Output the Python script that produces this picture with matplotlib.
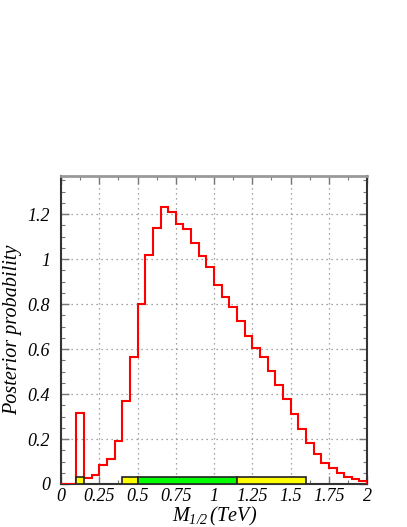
import numpy as np
import matplotlib
matplotlib.use("Agg")
import matplotlib.pyplot as plt
from matplotlib.ticker import MultipleLocator, FixedLocator, FixedFormatter

# posterior histogram of M_1/2, 40 bins from 0 to 2 TeV
bin_edges = np.linspace(0, 2, 41)
posterior = [0, 0, 0.314, 0.025, 0.041, 0.086, 0.11, 0.193, 0.371, 0.566,
             0.80, 1.02, 1.136, 1.23, 1.209, 1.154, 1.135, 1.07, 1.015, 0.966,
             0.884, 0.831, 0.785, 0.726, 0.659, 0.603, 0.566, 0.504, 0.44, 0.376,
             0.311, 0.244, 0.184, 0.132, 0.095, 0.073, 0.047, 0.033, 0.021, 0.013]

# credible interval bands along the bottom
band_lo = [0.1, 0.4, 0.5, 1.15]
band_hi = [0.15, 0.5, 1.15, 1.6]
band_col = ["#ffff00", "#ffff00", "#00ff00", "#ffff00"]

xticks = [0, 0.25, 0.5, 0.75, 1, 1.25, 1.5, 1.75, 2]
xlabels = ["0", "0.25", "0.5", "0.75", "1", "1.25", "1.5", "1.75", "2"]
yticks = [0, 0.2, 0.4, 0.6, 0.8, 1, 1.2]
ylabels = ["0", "0.2", "0.4", "0.6", "0.8", "1", "1.2"]

plt.rcParams['font.family'] = ['Liberation Serif', 'DejaVu Serif']
plt.rcParams['mathtext.fontset'] = 'custom'
plt.rcParams['mathtext.it'] = 'Liberation Serif:italic'
plt.rcParams['mathtext.rm'] = 'Liberation Serif:italic'

fig = plt.figure(figsize=(4.07, 5.27), dpi=100)
ax = fig.add_axes([0.150, 0.0816, 0.752, 0.5844])

ax.stairs(posterior, bin_edges, color="red", linewidth=1.5, zorder=3)

widths = [h - l for l, h in zip(band_lo, band_hi)]
ax.bar(band_lo, [0.03] * len(band_lo), width=widths, align="edge",
       color=band_col, edgecolor="#222222", linewidth=1.2, zorder=4)

ax.set_xlim(0, 2)
ax.set_ylim(0, 1.369)

ax.xaxis.set_major_locator(FixedLocator(xticks))
ax.xaxis.set_major_formatter(FixedFormatter(xlabels))
ax.xaxis.set_minor_locator(MultipleLocator(0.125))
ax.yaxis.set_major_locator(FixedLocator(yticks))
ax.yaxis.set_major_formatter(FixedFormatter(ylabels))
ax.yaxis.set_minor_locator(MultipleLocator(0.05))

ax.tick_params(which="both", direction="in", top=True, right=True,
               colors="#777777", labelcolor="black")
ax.tick_params(which="major", length=6, width=1)
ax.tick_params(which="minor", length=3, width=0.8)
for lab in ax.get_xticklabels() + ax.get_yticklabels():
    lab.set_fontstyle("italic")
    lab.set_fontsize(13)
ax.tick_params(axis="x", pad=3)
ax.tick_params(axis="y", pad=8)

ax.grid(True, which="major", linestyle=(0, (1, 3)), color="#888888", linewidth=0.9)

for s in ax.spines.values():
    s.set_color("#333333")
    s.set_linewidth(1.5)
ax.spines["top"].set_color("#999999")
ax.spines["top"].set_linewidth(2)

ax.set_ylabel("Posterior probability", fontsize=14.5, fontstyle="italic", labelpad=4)
ax.set_xlabel(r"$M_{1/2}\,(TeV)$", fontsize=14.5, labelpad=0)

fig.savefig("out.png", dpi=100)
